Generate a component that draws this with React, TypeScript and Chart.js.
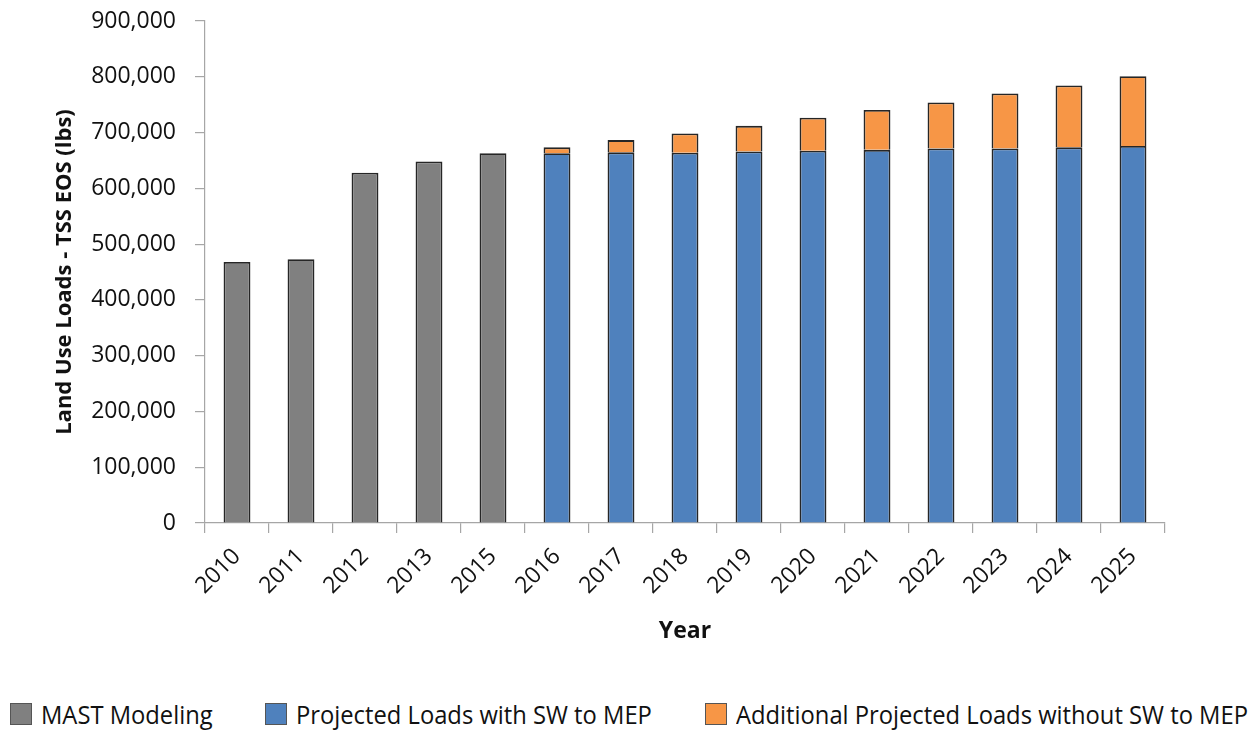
import React, { useEffect, useRef } from "react";
import { Chart, registerables } from "chart.js";

Chart.register(...registerables);

const years = ["2010", "2011", "2012", "2013", "2015", "2016", "2017", "2018", "2019", "2020", "2021", "2022", "2023", "2024", "2025"];
const mastModeling = [468000, 473000, 628000, 648000, 663000, null, null, null, null, null, null, null, null, null, null];
const projectedWithSW = [null, null, null, null, null, 663000, 664500, 664000, 666000, 667500, 669000, 671500, 671500, 673500, 676000];
const additionalWithoutSW = [null, null, null, null, null, 10500, 22000, 34500, 46000, 59000, 71500, 82500, 98500, 111000, 125000];
const yTicks = [0, 100000, 200000, 300000, 400000, 500000, 600000, 700000, 800000, 900000];

const seriesNames = ["MAST Modeling", "Projected Loads with SW to MEP", "Additional Projected Loads without SW to MEP"];
const seriesColors = ["#808080", "#4F81BD", "#F79646"];

export default function App() {
  const canvasRef = useRef<HTMLCanvasElement | null>(null);

  useEffect(() => {
    document.body.style.margin = "0";
    const ctx = canvasRef.current;
    if (!ctx) return;
    const border = "#262626";
    const chart = new Chart(ctx, {
      type: "bar",
      data: {
        labels: years,
        datasets: [
          { label: seriesNames[0], data: mastModeling, backgroundColor: seriesColors[0], borderColor: border, borderWidth: 1.8, barPercentage: 0.42, categoryPercentage: 1 },
          { label: seriesNames[1], data: projectedWithSW, backgroundColor: seriesColors[1], borderColor: border, borderWidth: 1.8, barPercentage: 0.42, categoryPercentage: 1 },
          { label: seriesNames[2], data: additionalWithoutSW, backgroundColor: seriesColors[2], borderColor: border, borderWidth: 1.8, barPercentage: 0.42, categoryPercentage: 1 },
        ],
      },
      options: {
        animation: false,
        responsive: false,
        maintainAspectRatio: false,
        layout: { padding: { left: 0, right: 91, top: 21, bottom: 0 } },
        plugins: { legend: { display: false }, tooltip: { enabled: false } },
        scales: {
          x: {
            stacked: true,
            afterFit: (s: any) => { s.height = 127; },
            grid: { offset: true, drawOnChartArea: false, drawTicks: true, tickLength: 10, color: "#a6a6a6", lineWidth: 1.2 },
            border: { color: "#a6a6a6", width: 1.2 },
            ticks: { maxRotation: 45, minRotation: 45, padding: 10, color: "#111", font: { family: "'Open Sans'", size: 23 } },
            title: { display: true, text: "Year", color: "#111", font: { family: "'Open Sans'", size: 23, weight: "bold" }, padding: { top: 0, bottom: 5 } },
          },
          y: {
            stacked: true,
            min: 0,
            max: 900000,
            afterFit: (s: any) => { s.width = 205; s.paddingTop = 0; s.paddingBottom = 0; },
            afterBuildTicks: (s: any) => { s.ticks = yTicks.map((v) => ({ value: v })); },
            grid: { drawOnChartArea: false, drawTicks: true, tickLength: 10, color: "#a6a6a6", lineWidth: 1.2 },
            border: { color: "#a6a6a6", width: 1.2 },
            ticks: {
              padding: 19,
              color: "#111",
              font: { family: "'Open Sans'", size: 23 },
              callback: (v: any) => Number(v).toLocaleString("en-US"),
            },
            title: { display: true, text: "Land Use Loads - TSS EOS (lbs)", color: "#111", font: { family: "'Open Sans'", size: 22, weight: "bold" }, padding: { top: 52, bottom: 0 } },
          },
        },
      },
    });
    return () => chart.destroy();
  }, []);

  const legendLeft = [10, 265, 705];
  return (
    <div style={{ position: "relative", width: 1256, height: 734, background: "#fff", overflow: "hidden" }}>
      <canvas ref={canvasRef} width={1256} height={650} style={{ position: "absolute", left: 0, top: 0, width: 1256, height: 650 }} />
      {seriesNames.map((name, i) => (
        <div key={name} style={{ position: "absolute", left: legendLeft[i], top: 701, display: "flex", alignItems: "center", whiteSpace: "nowrap" }}>
          <span style={{ display: "inline-block", width: 20, height: 20, background: seriesColors[i], border: "1px solid #555", marginRight: 9, flex: "none" }} />
          <span style={{ fontFamily: "'Open Sans', sans-serif", fontSize: 25, color: "#111", lineHeight: "26px", display: "inline-block", transform: "scaleX(0.95)", transformOrigin: "left center" }}>{name}</span>
        </div>
      ))}
    </div>
  );
}
